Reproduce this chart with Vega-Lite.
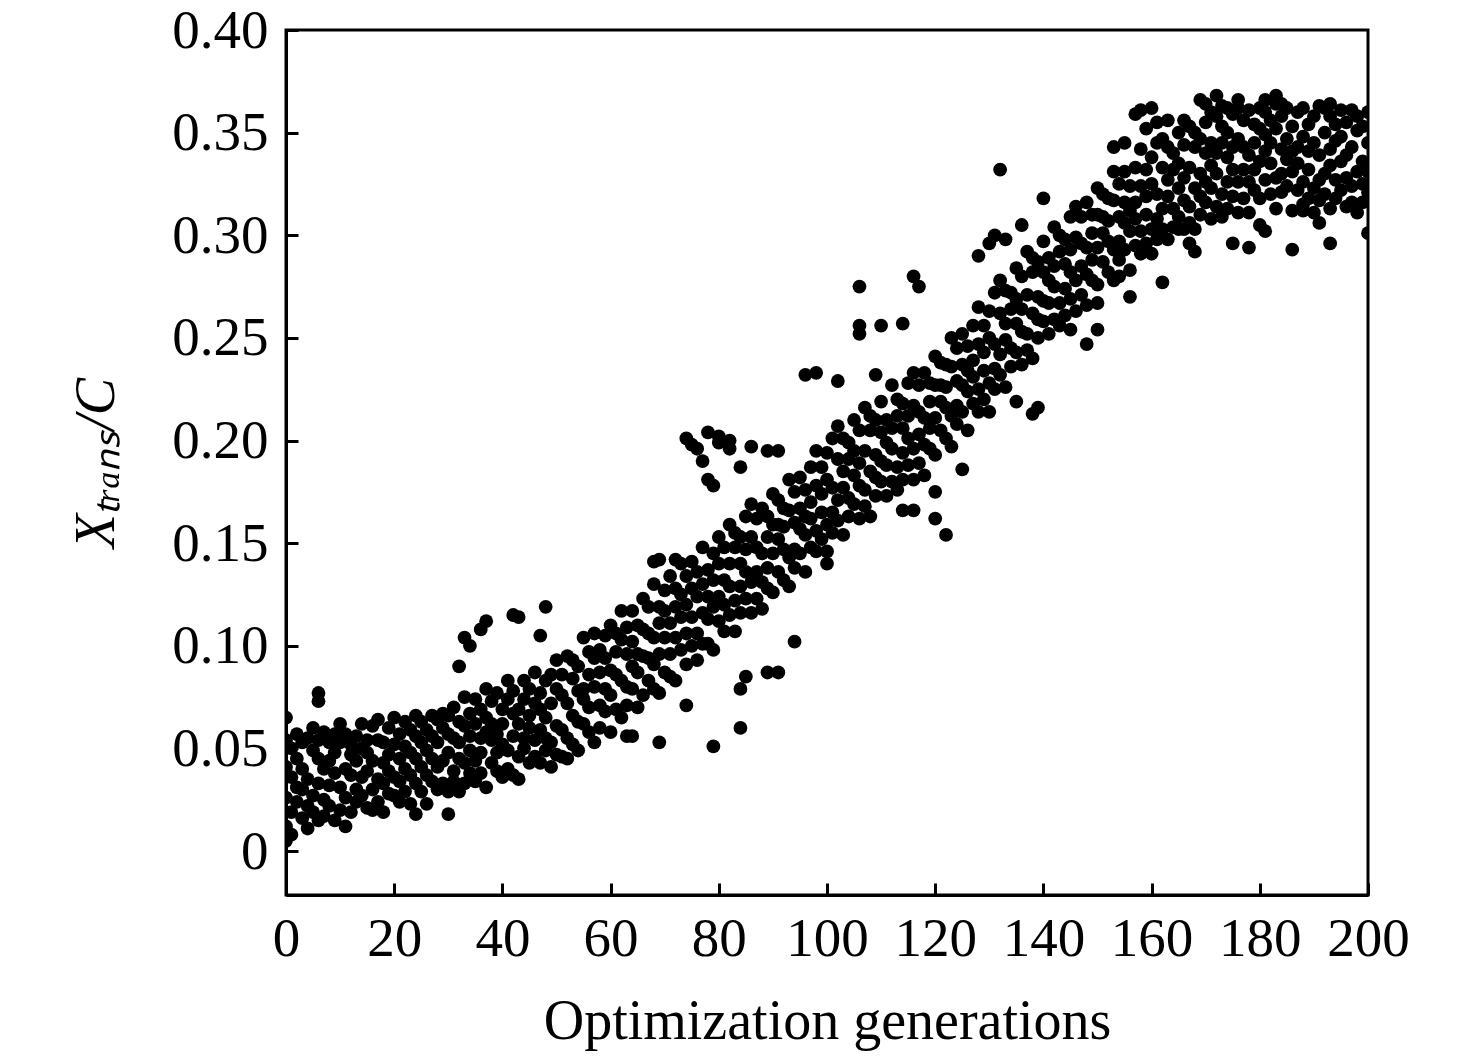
{
  "$schema": "https://vega.github.io/schema/vega-lite/v6.json",
  "width": 1082,
  "height": 865,
  "autosize": {"type": "none"},
  "padding": {"left": 286, "top": 30, "right": 108, "bottom": 163},
  "background": "white",
  "data": {"values": [
{"g":0,"v":0.012},{"g":0,"v":0.026},{"g":0,"v":0.041},{"g":0,"v":0.054},{"g":0,"v":0.005},{"g":0,"v":0.065},
{"g":1,"v":0.036},{"g":1,"v":0.019},{"g":1,"v":0.050},{"g":1,"v":0.008},
{"g":2,"v":0.024},{"g":2,"v":0.045},{"g":2,"v":0.057},{"g":2,"v":0.031},
{"g":3,"v":0.040},{"g":3,"v":0.016},{"g":3,"v":0.030},{"g":3,"v":0.053},
{"g":4,"v":0.022},{"g":4,"v":0.055},{"g":4,"v":0.035},{"g":4,"v":0.011},
{"g":5,"v":0.049},{"g":5,"v":0.027},{"g":5,"v":0.060},{"g":5,"v":0.019},
{"g":6,"v":0.033},{"g":6,"v":0.045},{"g":6,"v":0.015},{"g":6,"v":0.054},{"g":6,"v":0.073},{"g":6,"v":0.077},
{"g":7,"v":0.058},{"g":7,"v":0.025},{"g":7,"v":0.040},{"g":7,"v":0.017},
{"g":8,"v":0.022},{"g":8,"v":0.044},{"g":8,"v":0.053},{"g":8,"v":0.032},
{"g":9,"v":0.048},{"g":9,"v":0.015},{"g":9,"v":0.038},{"g":9,"v":0.057},
{"g":10,"v":0.031},{"g":10,"v":0.053},{"g":10,"v":0.020},{"g":10,"v":0.062},
{"g":11,"v":0.040},{"g":11,"v":0.026},{"g":11,"v":0.057},{"g":11,"v":0.012},
{"g":12,"v":0.019},{"g":12,"v":0.047},{"g":12,"v":0.037},{"g":12,"v":0.052},
{"g":13,"v":0.056},{"g":13,"v":0.030},{"g":13,"v":0.044},{"g":13,"v":0.024},
{"g":14,"v":0.036},{"g":14,"v":0.062},{"g":14,"v":0.027},{"g":14,"v":0.050},
{"g":15,"v":0.048},{"g":15,"v":0.021},{"g":15,"v":0.054},{"g":15,"v":0.039},
{"g":16,"v":0.030},{"g":16,"v":0.044},{"g":16,"v":0.061},{"g":16,"v":0.020},
{"g":17,"v":0.054},{"g":17,"v":0.035},{"g":17,"v":0.024},{"g":17,"v":0.064},
{"g":18,"v":0.019},{"g":18,"v":0.043},{"g":18,"v":0.053},{"g":18,"v":0.033},
{"g":19,"v":0.047},{"g":19,"v":0.060},{"g":19,"v":0.028},{"g":19,"v":0.039},
{"g":20,"v":0.027},{"g":20,"v":0.052},{"g":20,"v":0.065},{"g":20,"v":0.036},
{"g":21,"v":0.045},{"g":21,"v":0.024},{"g":21,"v":0.057},{"g":21,"v":0.034},
{"g":22,"v":0.063},{"g":22,"v":0.040},{"g":22,"v":0.029},{"g":22,"v":0.051},
{"g":23,"v":0.037},{"g":23,"v":0.059},{"g":23,"v":0.023},{"g":23,"v":0.048},
{"g":24,"v":0.056},{"g":24,"v":0.033},{"g":24,"v":0.066},{"g":24,"v":0.045},{"g":24,"v":0.018},
{"g":25,"v":0.029},{"g":25,"v":0.053},{"g":25,"v":0.041},{"g":25,"v":0.063},
{"g":26,"v":0.049},{"g":26,"v":0.023},{"g":26,"v":0.059},{"g":26,"v":0.037},
{"g":27,"v":0.034},{"g":27,"v":0.066},{"g":27,"v":0.045},{"g":27,"v":0.056},
{"g":28,"v":0.064},{"g":28,"v":0.041},{"g":28,"v":0.030},{"g":28,"v":0.053},
{"g":29,"v":0.044},{"g":29,"v":0.060},{"g":29,"v":0.033},{"g":29,"v":0.067},
{"g":30,"v":0.057},{"g":30,"v":0.029},{"g":30,"v":0.048},{"g":30,"v":0.066},{"g":30,"v":0.018},
{"g":31,"v":0.039},{"g":31,"v":0.055},{"g":31,"v":0.070},{"g":31,"v":0.034},
{"g":32,"v":0.063},{"g":32,"v":0.045},{"g":32,"v":0.029},{"g":32,"v":0.053},{"g":32,"v":0.090},
{"g":33,"v":0.033},{"g":33,"v":0.061},{"g":33,"v":0.075},{"g":33,"v":0.043},{"g":33,"v":0.104},
{"g":34,"v":0.056},{"g":34,"v":0.038},{"g":34,"v":0.067},{"g":34,"v":0.049},{"g":34,"v":0.100},
{"g":35,"v":0.074},{"g":35,"v":0.044},{"g":35,"v":0.034},{"g":35,"v":0.062},
{"g":36,"v":0.048},{"g":36,"v":0.069},{"g":36,"v":0.038},{"g":36,"v":0.055},{"g":36,"v":0.108},
{"g":37,"v":0.065},{"g":37,"v":0.031},{"g":37,"v":0.058},{"g":37,"v":0.079},{"g":37,"v":0.112},
{"g":38,"v":0.043},{"g":38,"v":0.062},{"g":38,"v":0.054},{"g":38,"v":0.073},
{"g":39,"v":0.057},{"g":39,"v":0.039},{"g":39,"v":0.077},{"g":39,"v":0.048},
{"g":40,"v":0.036},{"g":40,"v":0.069},{"g":40,"v":0.052},{"g":40,"v":0.062},
{"g":41,"v":0.074},{"g":41,"v":0.049},{"g":41,"v":0.083},{"g":41,"v":0.040},
{"g":42,"v":0.056},{"g":42,"v":0.067},{"g":42,"v":0.037},{"g":42,"v":0.078},{"g":42,"v":0.115},
{"g":43,"v":0.069},{"g":43,"v":0.046},{"g":43,"v":0.062},{"g":43,"v":0.035},{"g":43,"v":0.114},
{"g":44,"v":0.050},{"g":44,"v":0.083},{"g":44,"v":0.055},{"g":44,"v":0.074},
{"g":45,"v":0.066},{"g":45,"v":0.043},{"g":45,"v":0.079},{"g":45,"v":0.060},
{"g":46,"v":0.046},{"g":46,"v":0.072},{"g":46,"v":0.054},{"g":46,"v":0.087},
{"g":47,"v":0.077},{"g":47,"v":0.059},{"g":47,"v":0.043},{"g":47,"v":0.069},{"g":47,"v":0.105},
{"g":48,"v":0.055},{"g":48,"v":0.083},{"g":48,"v":0.049},{"g":48,"v":0.065},{"g":48,"v":0.119},
{"g":49,"v":0.086},{"g":49,"v":0.053},{"g":49,"v":0.072},{"g":49,"v":0.041},
{"g":50,"v":0.061},{"g":50,"v":0.079},{"g":50,"v":0.047},{"g":50,"v":0.093},
{"g":51,"v":0.076},{"g":51,"v":0.046},{"g":51,"v":0.086},{"g":51,"v":0.059},
{"g":52,"v":0.055},{"g":52,"v":0.072},{"g":52,"v":0.095},{"g":52,"v":0.045},
{"g":53,"v":0.084},{"g":53,"v":0.066},{"g":53,"v":0.052},{"g":53,"v":0.093},
{"g":54,"v":0.049},{"g":54,"v":0.090},{"g":54,"v":0.078},{"g":54,"v":0.063},
{"g":55,"v":0.079},{"g":55,"v":0.104},{"g":55,"v":0.062},{"g":55,"v":0.074},
{"g":56,"v":0.058},{"g":56,"v":0.086},{"g":56,"v":0.097},{"g":56,"v":0.070},
{"g":57,"v":0.094},{"g":57,"v":0.053},{"g":57,"v":0.080},{"g":57,"v":0.106},
{"g":58,"v":0.071},{"g":58,"v":0.087},{"g":58,"v":0.060},{"g":58,"v":0.098},
{"g":59,"v":0.105},{"g":59,"v":0.068},{"g":59,"v":0.094},{"g":59,"v":0.079},
{"g":60,"v":0.058},{"g":60,"v":0.088},{"g":60,"v":0.076},{"g":60,"v":0.110},
{"g":61,"v":0.097},{"g":61,"v":0.069},{"g":61,"v":0.106},{"g":61,"v":0.086},
{"g":62,"v":0.083},{"g":62,"v":0.103},{"g":62,"v":0.065},{"g":62,"v":0.117},
{"g":63,"v":0.109},{"g":63,"v":0.080},{"g":63,"v":0.096},{"g":63,"v":0.071},{"g":63,"v":0.056},
{"g":64,"v":0.079},{"g":64,"v":0.117},{"g":64,"v":0.090},{"g":64,"v":0.102},{"g":64,"v":0.056},
{"g":65,"v":0.096},{"g":65,"v":0.070},{"g":65,"v":0.110},{"g":65,"v":0.087},
{"g":66,"v":0.076},{"g":66,"v":0.108},{"g":66,"v":0.123},{"g":66,"v":0.095},
{"g":67,"v":0.106},{"g":67,"v":0.083},{"g":67,"v":0.094},{"g":67,"v":0.119},
{"g":68,"v":0.091},{"g":68,"v":0.130},{"g":68,"v":0.079},{"g":68,"v":0.104},{"g":68,"v":0.141},
{"g":69,"v":0.119},{"g":69,"v":0.096},{"g":69,"v":0.111},{"g":69,"v":0.077},{"g":69,"v":0.142},{"g":69,"v":0.053},
{"g":70,"v":0.087},{"g":70,"v":0.127},{"g":70,"v":0.104},{"g":70,"v":0.117},
{"g":71,"v":0.111},{"g":71,"v":0.085},{"g":71,"v":0.134},{"g":71,"v":0.096},
{"g":72,"v":0.083},{"g":72,"v":0.119},{"g":72,"v":0.104},{"g":72,"v":0.128},{"g":72,"v":0.142},
{"g":73,"v":0.125},{"g":73,"v":0.098},{"g":73,"v":0.114},{"g":73,"v":0.140},
{"g":74,"v":0.106},{"g":74,"v":0.134},{"g":74,"v":0.091},{"g":74,"v":0.120},{"g":74,"v":0.201},{"g":74,"v":0.071},
{"g":75,"v":0.141},{"g":75,"v":0.114},{"g":75,"v":0.100},{"g":75,"v":0.128},{"g":75,"v":0.198},
{"g":76,"v":0.106},{"g":76,"v":0.124},{"g":76,"v":0.136},{"g":76,"v":0.093},{"g":76,"v":0.196},
{"g":77,"v":0.130},{"g":77,"v":0.101},{"g":77,"v":0.148},{"g":77,"v":0.116},{"g":77,"v":0.190},
{"g":78,"v":0.101},{"g":78,"v":0.137},{"g":78,"v":0.124},{"g":78,"v":0.113},{"g":78,"v":0.204},{"g":78,"v":0.181},
{"g":79,"v":0.145},{"g":79,"v":0.119},{"g":79,"v":0.098},{"g":79,"v":0.132},{"g":79,"v":0.051},{"g":79,"v":0.178},
{"g":80,"v":0.124},{"g":80,"v":0.153},{"g":80,"v":0.112},{"g":80,"v":0.140},{"g":80,"v":0.202},{"g":80,"v":0.199},
{"g":81,"v":0.132},{"g":81,"v":0.107},{"g":81,"v":0.148},{"g":81,"v":0.120},
{"g":82,"v":0.115},{"g":82,"v":0.140},{"g":82,"v":0.159},{"g":82,"v":0.129},{"g":82,"v":0.200},{"g":82,"v":0.196},
{"g":83,"v":0.148},{"g":83,"v":0.122},{"g":83,"v":0.107},{"g":83,"v":0.155},
{"g":84,"v":0.129},{"g":84,"v":0.140},{"g":84,"v":0.153},{"g":84,"v":0.116},{"g":84,"v":0.060},{"g":84,"v":0.187},{"g":84,"v":0.079},
{"g":85,"v":0.163},{"g":85,"v":0.123},{"g":85,"v":0.147},{"g":85,"v":0.136},{"g":85,"v":0.085},
{"g":86,"v":0.116},{"g":86,"v":0.153},{"g":86,"v":0.131},{"g":86,"v":0.169},{"g":86,"v":0.197},
{"g":87,"v":0.148},{"g":87,"v":0.123},{"g":87,"v":0.162},{"g":87,"v":0.136},
{"g":88,"v":0.131},{"g":88,"v":0.145},{"g":88,"v":0.167},{"g":88,"v":0.118},
{"g":89,"v":0.163},{"g":89,"v":0.138},{"g":89,"v":0.153},{"g":89,"v":0.128},{"g":89,"v":0.087},{"g":89,"v":0.195},
{"g":90,"v":0.145},{"g":90,"v":0.174},{"g":90,"v":0.126},{"g":90,"v":0.159},
{"g":91,"v":0.159},{"g":91,"v":0.136},{"g":91,"v":0.152},{"g":91,"v":0.171},{"g":91,"v":0.195},{"g":91,"v":0.087},
{"g":92,"v":0.132},{"g":92,"v":0.167},{"g":92,"v":0.147},{"g":92,"v":0.158},
{"g":93,"v":0.166},{"g":93,"v":0.129},{"g":93,"v":0.181},{"g":93,"v":0.143},
{"g":94,"v":0.147},{"g":94,"v":0.160},{"g":94,"v":0.138},{"g":94,"v":0.175},{"g":94,"v":0.102},
{"g":95,"v":0.182},{"g":95,"v":0.157},{"g":95,"v":0.145},{"g":95,"v":0.167},
{"g":96,"v":0.136},{"g":96,"v":0.176},{"g":96,"v":0.163},{"g":96,"v":0.154},{"g":96,"v":0.232},
{"g":97,"v":0.170},{"g":97,"v":0.148},{"g":97,"v":0.187},{"g":97,"v":0.162},
{"g":98,"v":0.156},{"g":98,"v":0.195},{"g":98,"v":0.146},{"g":98,"v":0.178},{"g":98,"v":0.233},
{"g":99,"v":0.187},{"g":99,"v":0.165},{"g":99,"v":0.174},{"g":99,"v":0.152},
{"g":100,"v":0.159},{"g":100,"v":0.194},{"g":100,"v":0.146},{"g":100,"v":0.181},{"g":100,"v":0.140},
{"g":101,"v":0.177},{"g":101,"v":0.165},{"g":101,"v":0.201},{"g":101,"v":0.155},
{"g":102,"v":0.171},{"g":102,"v":0.191},{"g":102,"v":0.161},{"g":102,"v":0.207},{"g":102,"v":0.229},
{"g":103,"v":0.201},{"g":103,"v":0.154},{"g":103,"v":0.185},{"g":103,"v":0.177},
{"g":104,"v":0.163},{"g":104,"v":0.191},{"g":104,"v":0.199},{"g":104,"v":0.172},
{"g":105,"v":0.195},{"g":105,"v":0.169},{"g":105,"v":0.183},{"g":105,"v":0.210},
{"g":106,"v":0.162},{"g":106,"v":0.189},{"g":106,"v":0.205},{"g":106,"v":0.178},{"g":106,"v":0.275},{"g":106,"v":0.256},{"g":106,"v":0.252},
{"g":107,"v":0.195},{"g":107,"v":0.168},{"g":107,"v":0.216},{"g":107,"v":0.176},
{"g":108,"v":0.185},{"g":108,"v":0.205},{"g":108,"v":0.163},{"g":108,"v":0.212},
{"g":109,"v":0.210},{"g":109,"v":0.182},{"g":109,"v":0.193},{"g":109,"v":0.173},{"g":109,"v":0.232},
{"g":110,"v":0.180},{"g":110,"v":0.219},{"g":110,"v":0.190},{"g":110,"v":0.204},{"g":110,"v":0.256},
{"g":111,"v":0.199},{"g":111,"v":0.173},{"g":111,"v":0.210},{"g":111,"v":0.188},
{"g":112,"v":0.180},{"g":112,"v":0.206},{"g":112,"v":0.227},{"g":112,"v":0.196},
{"g":113,"v":0.212},{"g":113,"v":0.187},{"g":113,"v":0.176},{"g":113,"v":0.220},
{"g":114,"v":0.194},{"g":114,"v":0.206},{"g":114,"v":0.218},{"g":114,"v":0.181},{"g":114,"v":0.166},{"g":114,"v":0.257},
{"g":115,"v":0.228},{"g":115,"v":0.188},{"g":115,"v":0.212},{"g":115,"v":0.201},
{"g":116,"v":0.181},{"g":116,"v":0.217},{"g":116,"v":0.196},{"g":116,"v":0.233},{"g":116,"v":0.166},{"g":116,"v":0.280},
{"g":117,"v":0.214},{"g":117,"v":0.189},{"g":117,"v":0.227},{"g":117,"v":0.203},{"g":117,"v":0.275},
{"g":118,"v":0.198},{"g":118,"v":0.211},{"g":118,"v":0.233},{"g":118,"v":0.183},
{"g":119,"v":0.228},{"g":119,"v":0.206},{"g":119,"v":0.219},{"g":119,"v":0.196},
{"g":120,"v":0.211},{"g":120,"v":0.241},{"g":120,"v":0.193},{"g":120,"v":0.227},{"g":120,"v":0.175},{"g":120,"v":0.162},
{"g":121,"v":0.227},{"g":121,"v":0.205},{"g":121,"v":0.219},{"g":121,"v":0.238},
{"g":122,"v":0.201},{"g":122,"v":0.237},{"g":122,"v":0.216},{"g":122,"v":0.226},{"g":122,"v":0.154},
{"g":123,"v":0.236},{"g":123,"v":0.197},{"g":123,"v":0.250},{"g":123,"v":0.212},
{"g":124,"v":0.217},{"g":124,"v":0.229},{"g":124,"v":0.208},{"g":124,"v":0.245},
{"g":125,"v":0.252},{"g":125,"v":0.227},{"g":125,"v":0.214},{"g":125,"v":0.237},{"g":125,"v":0.186},
{"g":126,"v":0.205},{"g":126,"v":0.246},{"g":126,"v":0.234},{"g":126,"v":0.224},
{"g":127,"v":0.239},{"g":127,"v":0.218},{"g":127,"v":0.256},{"g":127,"v":0.231},
{"g":128,"v":0.225},{"g":128,"v":0.265},{"g":128,"v":0.214},{"g":128,"v":0.247},{"g":128,"v":0.290},
{"g":129,"v":0.256},{"g":129,"v":0.234},{"g":129,"v":0.243},{"g":129,"v":0.220},
{"g":130,"v":0.228},{"g":130,"v":0.263},{"g":130,"v":0.214},{"g":130,"v":0.250},{"g":130,"v":0.296},
{"g":131,"v":0.247},{"g":131,"v":0.235},{"g":131,"v":0.272},{"g":131,"v":0.225},{"g":131,"v":0.300},
{"g":132,"v":0.242},{"g":132,"v":0.262},{"g":132,"v":0.232},{"g":132,"v":0.278},{"g":132,"v":0.332},
{"g":133,"v":0.273},{"g":133,"v":0.226},{"g":133,"v":0.257},{"g":133,"v":0.249},{"g":133,"v":0.298},
{"g":134,"v":0.236},{"g":134,"v":0.264},{"g":134,"v":0.272},{"g":134,"v":0.245},
{"g":135,"v":0.269},{"g":135,"v":0.243},{"g":135,"v":0.257},{"g":135,"v":0.284},{"g":135,"v":0.219},
{"g":136,"v":0.237},{"g":136,"v":0.264},{"g":136,"v":0.280},{"g":136,"v":0.253},{"g":136,"v":0.305},
{"g":137,"v":0.271},{"g":137,"v":0.244},{"g":137,"v":0.292},{"g":137,"v":0.252},
{"g":138,"v":0.262},{"g":138,"v":0.282},{"g":138,"v":0.240},{"g":138,"v":0.289},{"g":138,"v":0.213},
{"g":139,"v":0.287},{"g":139,"v":0.259},{"g":139,"v":0.270},{"g":139,"v":0.250},{"g":139,"v":0.216},
{"g":140,"v":0.258},{"g":140,"v":0.297},{"g":140,"v":0.268},{"g":140,"v":0.282},{"g":140,"v":0.318},
{"g":141,"v":0.278},{"g":141,"v":0.252},{"g":141,"v":0.289},{"g":141,"v":0.267},
{"g":142,"v":0.259},{"g":142,"v":0.285},{"g":142,"v":0.304},{"g":142,"v":0.275},
{"g":143,"v":0.292},{"g":143,"v":0.267},{"g":143,"v":0.256},{"g":143,"v":0.300},
{"g":144,"v":0.274},{"g":144,"v":0.286},{"g":144,"v":0.298},{"g":144,"v":0.261},
{"g":145,"v":0.309},{"g":145,"v":0.269},{"g":145,"v":0.293},{"g":145,"v":0.282},{"g":145,"v":0.254},
{"g":146,"v":0.263},{"g":146,"v":0.299},{"g":146,"v":0.278},{"g":146,"v":0.314},
{"g":147,"v":0.296},{"g":147,"v":0.271},{"g":147,"v":0.309},{"g":147,"v":0.285},
{"g":148,"v":0.281},{"g":148,"v":0.294},{"g":148,"v":0.316},{"g":148,"v":0.266},{"g":148,"v":0.247},
{"g":149,"v":0.310},{"g":149,"v":0.288},{"g":149,"v":0.301},{"g":149,"v":0.278},
{"g":150,"v":0.294},{"g":150,"v":0.323},{"g":150,"v":0.276},{"g":150,"v":0.310},{"g":150,"v":0.254},{"g":150,"v":0.267},
{"g":151,"v":0.309},{"g":151,"v":0.287},{"g":151,"v":0.301},{"g":151,"v":0.320},
{"g":152,"v":0.282},{"g":152,"v":0.318},{"g":152,"v":0.297},{"g":152,"v":0.307},
{"g":153,"v":0.317},{"g":153,"v":0.278},{"g":153,"v":0.331},{"g":153,"v":0.293},{"g":153,"v":0.343},
{"g":154,"v":0.297},{"g":154,"v":0.309},{"g":154,"v":0.288},{"g":154,"v":0.325},{"g":154,"v":0.280},
{"g":155,"v":0.331},{"g":155,"v":0.306},{"g":155,"v":0.293},{"g":155,"v":0.316},{"g":155,"v":0.345},
{"g":156,"v":0.283},{"g":156,"v":0.324},{"g":156,"v":0.312},{"g":156,"v":0.302},{"g":156,"v":0.270},
{"g":157,"v":0.316},{"g":157,"v":0.295},{"g":157,"v":0.333},{"g":157,"v":0.308},{"g":157,"v":0.359},
{"g":158,"v":0.302},{"g":158,"v":0.342},{"g":158,"v":0.291},{"g":158,"v":0.324},{"g":158,"v":0.361},
{"g":159,"v":0.332},{"g":159,"v":0.310},{"g":159,"v":0.319},{"g":159,"v":0.296},{"g":159,"v":0.352},
{"g":160,"v":0.303},{"g":160,"v":0.338},{"g":160,"v":0.291},{"g":160,"v":0.325},{"g":160,"v":0.362},
{"g":161,"v":0.320},{"g":161,"v":0.308},{"g":161,"v":0.345},{"g":161,"v":0.298},{"g":161,"v":0.355},
{"g":162,"v":0.313},{"g":162,"v":0.333},{"g":162,"v":0.303},{"g":162,"v":0.347},{"g":162,"v":0.277},
{"g":163,"v":0.343},{"g":163,"v":0.298},{"g":163,"v":0.327},{"g":163,"v":0.319},{"g":163,"v":0.356},
{"g":164,"v":0.304},{"g":164,"v":0.332},{"g":164,"v":0.340},{"g":164,"v":0.313},
{"g":165,"v":0.335},{"g":165,"v":0.309},{"g":165,"v":0.323},{"g":165,"v":0.350},{"g":165,"v":0.303},
{"g":166,"v":0.303},{"g":166,"v":0.328},{"g":166,"v":0.344},{"g":166,"v":0.317},{"g":166,"v":0.356},
{"g":167,"v":0.333},{"g":167,"v":0.306},{"g":167,"v":0.353},{"g":167,"v":0.314},{"g":167,"v":0.296},
{"g":168,"v":0.323},{"g":168,"v":0.343},{"g":168,"v":0.303},{"g":168,"v":0.350},{"g":168,"v":0.292},
{"g":169,"v":0.347},{"g":169,"v":0.319},{"g":169,"v":0.330},{"g":169,"v":0.310},{"g":169,"v":0.366},
{"g":170,"v":0.316},{"g":170,"v":0.355},{"g":170,"v":0.326},{"g":170,"v":0.340},{"g":170,"v":0.364},
{"g":171,"v":0.334},{"g":171,"v":0.308},{"g":171,"v":0.345},{"g":171,"v":0.323},{"g":171,"v":0.360},
{"g":172,"v":0.314},{"g":172,"v":0.340},{"g":172,"v":0.358},{"g":172,"v":0.330},{"g":172,"v":0.368},
{"g":173,"v":0.345},{"g":173,"v":0.320},{"g":173,"v":0.309},{"g":173,"v":0.353},{"g":173,"v":0.363},
{"g":174,"v":0.326},{"g":174,"v":0.338},{"g":174,"v":0.350},{"g":174,"v":0.313},{"g":174,"v":0.362},
{"g":175,"v":0.359},{"g":175,"v":0.319},{"g":175,"v":0.343},{"g":175,"v":0.332},{"g":175,"v":0.296},
{"g":176,"v":0.311},{"g":176,"v":0.347},{"g":176,"v":0.326},{"g":176,"v":0.362},{"g":176,"v":0.366},
{"g":177,"v":0.343},{"g":177,"v":0.318},{"g":177,"v":0.356},{"g":177,"v":0.332},
{"g":178,"v":0.326},{"g":178,"v":0.339},{"g":178,"v":0.361},{"g":178,"v":0.311},{"g":178,"v":0.294},
{"g":179,"v":0.354},{"g":179,"v":0.332},{"g":179,"v":0.345},{"g":179,"v":0.322},
{"g":180,"v":0.336},{"g":180,"v":0.362},{"g":180,"v":0.318},{"g":180,"v":0.352},{"g":180,"v":0.305},
{"g":181,"v":0.349},{"g":181,"v":0.327},{"g":181,"v":0.341},{"g":181,"v":0.360},{"g":181,"v":0.366},{"g":181,"v":0.302},
{"g":182,"v":0.320},{"g":182,"v":0.356},{"g":182,"v":0.335},{"g":182,"v":0.345},
{"g":183,"v":0.352},{"g":183,"v":0.313},{"g":183,"v":0.364},{"g":183,"v":0.328},{"g":183,"v":0.368},
{"g":184,"v":0.330},{"g":184,"v":0.342},{"g":184,"v":0.321},{"g":184,"v":0.358},{"g":184,"v":0.364},
{"g":185,"v":0.362},{"g":185,"v":0.337},{"g":185,"v":0.324},{"g":185,"v":0.347},
{"g":186,"v":0.312},{"g":186,"v":0.353},{"g":186,"v":0.341},{"g":186,"v":0.331},{"g":186,"v":0.293},
{"g":187,"v":0.343},{"g":187,"v":0.322},{"g":187,"v":0.360},{"g":187,"v":0.335},
{"g":188,"v":0.326},{"g":188,"v":0.362},{"g":188,"v":0.315},{"g":188,"v":0.348},{"g":188,"v":0.312},
{"g":189,"v":0.354},{"g":189,"v":0.332},{"g":189,"v":0.341},{"g":189,"v":0.318},
{"g":190,"v":0.323},{"g":190,"v":0.358},{"g":190,"v":0.311},{"g":190,"v":0.345},
{"g":191,"v":0.339},{"g":191,"v":0.327},{"g":191,"v":0.363},{"g":191,"v":0.317},{"g":191,"v":0.306},
{"g":192,"v":0.330},{"g":192,"v":0.350},{"g":192,"v":0.320},{"g":192,"v":0.362},
{"g":193,"v":0.358},{"g":193,"v":0.313},{"g":193,"v":0.342},{"g":193,"v":0.334},{"g":193,"v":0.296},{"g":193,"v":0.364},
{"g":194,"v":0.318},{"g":194,"v":0.346},{"g":194,"v":0.354},{"g":194,"v":0.327},
{"g":195,"v":0.348},{"g":195,"v":0.322},{"g":195,"v":0.336},{"g":195,"v":0.361},
{"g":196,"v":0.314},{"g":196,"v":0.339},{"g":196,"v":0.355},{"g":196,"v":0.328},
{"g":197,"v":0.343},{"g":197,"v":0.316},{"g":197,"v":0.361},{"g":197,"v":0.324},
{"g":198,"v":0.331},{"g":198,"v":0.351},{"g":198,"v":0.311},{"g":198,"v":0.358},
{"g":199,"v":0.353},{"g":199,"v":0.325},{"g":199,"v":0.336},{"g":199,"v":0.316},
{"g":200,"v":0.321},{"g":200,"v":0.360},{"g":200,"v":0.331},{"g":200,"v":0.345},{"g":200,"v":0.301}
  ]},
  "mark": {"type": "point", "shape": "circle", "filled": true, "size": 190, "color": "black", "opacity": 1, "strokeWidth": 0, "clip": true},
  "encoding": {
    "x": {
      "field": "g", "type": "quantitative",
      "scale": {"domain": [0, 200], "nice": false, "zero": false},
      "axis": {"values": [0, 20, 40, 60, 80, 100, 120, 140, 160, 180, 200], "title": "Optimization generations", "labelPadding": 29, "titlePadding": 28, "labelFlush": false, "labelFontSize": 55, "titleFontSize": 56}
    },
    "y": {
      "field": "v", "type": "quantitative",
      "scale": {"domain": [-0.0214, 0.4], "nice": false, "zero": false},
      "axis": {"values": [0, 0.05, 0.1, 0.15, 0.2, 0.25, 0.3, 0.35, 0.4], "labelExpr": "datum.value == 0 ? '0' : format(datum.value, '.2f')", "title": "Xₜᵣₐₙₛ/C", "titleFontStyle": "italic", "labelPadding": 30, "titlePadding": 46, "labelFlush": false, "labelFontSize": 55, "titleFontSize": 56}
    }
  },
  "config": {
    "view": {"stroke": "black", "strokeWidth": 3},
    "axis": {
      "grid": false,
      "domainColor": "black", "domainWidth": 3,
      "tickColor": "black", "tickWidth": 3, "tickSize": -12,
      "labelFont": "Liberation Serif", "labelColor": "black",
      "titleFont": "Liberation Serif", "titleFontWeight": "normal", "titleColor": "black"
    }
  }
}
